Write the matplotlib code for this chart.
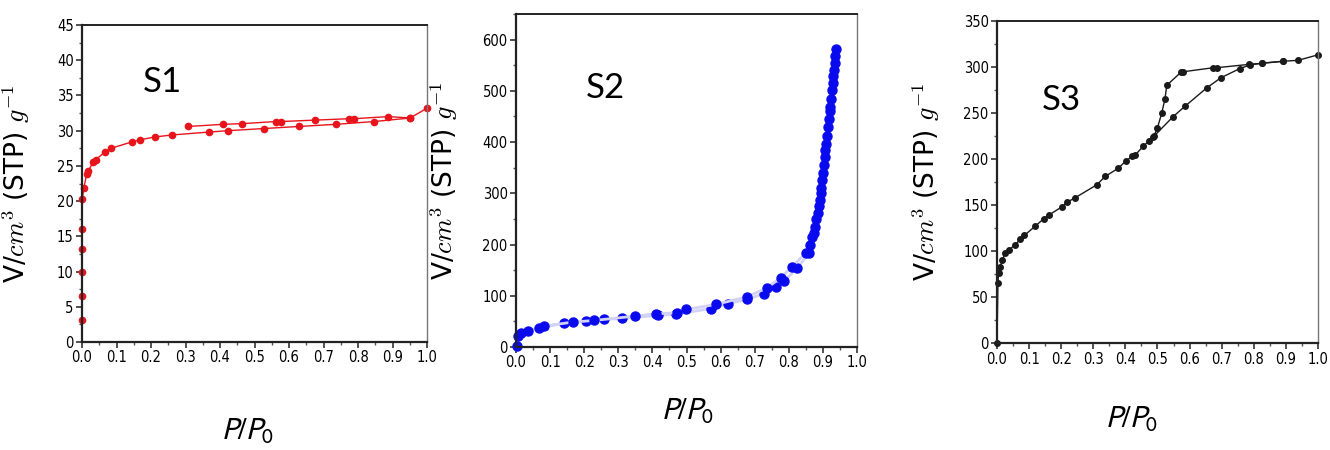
import matplotlib
matplotlib.use("Agg")
import matplotlib.pyplot as plt
from matplotlib.ticker import MultipleLocator

# S1 isotherm (red)
s1_ads_x = [0.0, 0.0, 0.0, 0.0, 0.0, 0.001, 0.005, 0.014, 0.018, 0.033, 0.04, 0.067, 0.084,
            0.144, 0.168, 0.21, 0.262, 0.368, 0.422, 0.526, 0.629, 0.735, 0.847, 0.951, 1.0]
s1_ads_y = [3.1, 6.5, 10.0, 13.2, 16.0, 20.3, 21.9, 23.9, 24.3, 25.6, 25.9, 27.0, 27.5,
            28.4, 28.7, 29.1, 29.4, 29.8, 30.0, 30.3, 30.6, 30.9, 31.3, 31.8, 33.2]
s1_des_x = [0.308, 0.408, 0.465, 0.562, 0.577, 0.675, 0.775, 0.788, 0.888, 0.951]
s1_des_y = [30.6, 30.9, 31.0, 31.3, 31.3, 31.5, 31.7, 31.7, 32.0, 31.8]

# S2 isotherm (blue)
s2_ads_x = [0.003, 0.007, 0.015, 0.034, 0.068, 0.141, 0.205, 0.259, 0.312, 0.415, 0.468,
            0.571, 0.622, 0.678, 0.727, 0.761, 0.785, 0.824, 0.859]
s2_ads_y = [2, 21, 28, 32, 37.6, 46, 50.5, 53.8, 55.7, 61.6, 64, 75, 84.9, 93, 104, 117,
            128, 154, 183]
s2_des_x = [0.083, 0.166, 0.229, 0.349, 0.41, 0.473, 0.498, 0.585, 0.678, 0.735, 0.776,
            0.81, 0.849, 0.862, 0.869, 0.873, 0.877, 0.881, 0.885, 0.888, 0.891, 0.893,
            0.895, 0.898, 0.9, 0.903, 0.905, 0.907, 0.909, 0.912, 0.915, 0.917, 0.92,
            0.922, 0.924, 0.927, 0.929, 0.93, 0.932, 0.934, 0.935, 0.937]
s2_des_y = [40.8, 48.6, 51.8, 60.3, 64.8, 66.8, 73.2, 83, 98, 115, 135, 157, 183, 200,
            215, 222, 235, 250, 261, 275, 287, 300, 310, 325, 339, 355, 371, 385, 397,
            412, 430, 445, 460, 469, 485, 501, 515, 528, 540, 555, 568, 582]

# S3 isotherm (black)
s3_ads_x = [0.0, 0.003, 0.005, 0.01, 0.016, 0.026, 0.036, 0.057, 0.073, 0.085, 0.119,
            0.145, 0.161, 0.202, 0.218, 0.244, 0.311, 0.337, 0.378, 0.402, 0.422, 0.43,
            0.456, 0.472, 0.487, 0.549, 0.585, 0.653, 0.697, 0.756, 0.788, 0.827, 0.891,
            0.938, 1.0]
s3_ads_y = [0, 65, 76, 83, 90, 98, 101, 107, 113, 117, 127, 135, 139, 148, 153, 158,
            172, 181, 190, 198, 203, 204, 214, 219, 224, 246, 257, 277, 288, 298, 302,
            304, 306, 307, 313]
s3_des_x = [0.891, 0.824, 0.785, 0.684, 0.674, 0.58, 0.573, 0.529, 0.523, 0.513, 0.5, 0.489]
s3_des_y = [306, 303.7, 302.6, 299, 299, 294.6, 294, 280, 264.6, 249.5, 234, 225]

x_ticks = [0.0, 0.1, 0.2, 0.3, 0.4, 0.5, 0.6, 0.7, 0.8, 0.9, 1.0]
x_labels = ["0.0", "0.1", "0.2", "0.3", "0.4", "0.5", "0.6", "0.7", "0.8", "0.9", "1.0"]

tick_font = ["Liberation Sans Narrow", "DejaVu Sans"]
ylab = r"V/$cm^3$ (STP) $g^{-1}$"
xlab = r"$P/P_0$"

fig = plt.figure(figsize=(13.3, 4.5), dpi=100)

ax1 = fig.add_axes([0.0617, 0.240, 0.2594, 0.7044])
ax2 = fig.add_axes([0.3880, 0.2289, 0.2564, 0.7400])
ax3 = fig.add_axes([0.7496, 0.2371, 0.2414, 0.7169])

ax1.plot(s1_ads_x, s1_ads_y, color="#e8141b", lw=1.0, marker="o", ms=4.5, clip_on=False)
ax1.plot(s1_des_x, s1_des_y, color="#e8141b", lw=1.0, marker="o", ms=4.5, clip_on=False)
ax1.set_ylim(0, 45)
ax1.yaxis.set_major_locator(MultipleLocator(5))
ax1.yaxis.set_minor_locator(MultipleLocator(2.5))

ax2.plot(s2_ads_x, s2_ads_y, color="#d2d2f6", lw=2.0, marker="o", ms=6.5,
         mfc="#0a0aee", mec="#0a0aee", clip_on=False)
ax2.plot(s2_des_x, s2_des_y, color="#d2d2f6", lw=2.0, marker="o", ms=6.5,
         mfc="#0a0aee", mec="#0a0aee", clip_on=False)
ax2.set_ylim(0, 650)
ax2.set_yticks([0, 100, 200, 300, 400, 500, 600])
ax2.yaxis.set_minor_locator(MultipleLocator(50))

ax3.plot(s3_ads_x, s3_ads_y, color="#1a1a1a", lw=1.0, marker="o", ms=4, clip_on=False)
ax3.plot(s3_des_x, s3_des_y, color="#1a1a1a", lw=1.0, marker="o", ms=4, clip_on=False)
ax3.set_ylim(0, 350)
ax3.yaxis.set_major_locator(MultipleLocator(50))
ax3.yaxis.set_minor_locator(MultipleLocator(25))

names = ["S1", "S2", "S3"]
name_pos = [(0.232, 0.82), (0.263, 0.778), (0.202, 0.755)]
ylab_x = [-0.145, -0.165, -0.17]
xlab_pos = [(0.478, -0.235), (0.501, -0.15), (0.42, -0.19)]

for ax, nm, npos, lx, xpos in zip([ax1, ax2, ax3], names, name_pos, ylab_x, xlab_pos):
    ax.set_xticks(x_ticks)
    ax.set_xticklabels(x_labels)
    ax.xaxis.set_minor_locator(MultipleLocator(0.05))
    ax.set_xlim(0, 1.0)
    ax.tick_params(which="major", direction="out", length=4, width=1.2, color="#333333",
                   labelsize=10.5, pad=2)
    ax.tick_params(which="minor", direction="out", length=2.5, width=1.0, color="#555555")
    for lbl in ax.get_xticklabels() + ax.get_yticklabels():
        lbl.set_family(tick_font)
        lbl.set_stretch("condensed")
    for side in ["left", "bottom"]:
        ax.spines[side].set_linewidth(1.6)
        ax.spines[side].set_color("#222222")
    ax.spines["top"].set_linewidth(1.4)
    ax.spines["top"].set_color("#222222")
    ax.spines["right"].set_linewidth(1.0)
    ax.spines["right"].set_color("#777777")
    ax.text(npos[0], npos[1], nm, transform=ax.transAxes, fontsize=25,
            family=["Lato", "DejaVu Sans"], ha="center", va="center")
    ax.set_ylabel(ylab, fontsize=19, math_fontfamily="cm")
    ax.yaxis.set_label_coords(lx, 0.5)
    ax.set_xlabel(xlab, fontsize=22, math_fontfamily="stixsans")
    ax.xaxis.set_label_coords(xpos[0], xpos[1])

fig.savefig("out.png", dpi=100)
